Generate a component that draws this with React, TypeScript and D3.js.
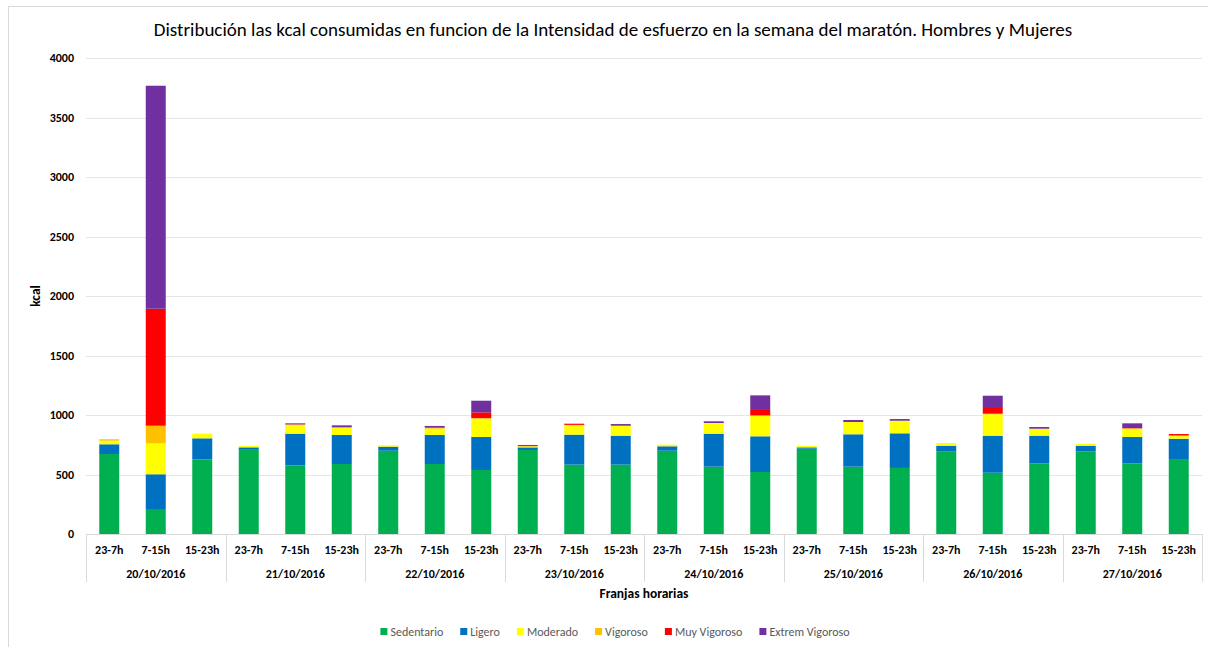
import React, { useEffect, useRef } from "react";
import * as d3 from "d3";

const dates = ["20/10/2016", "21/10/2016", "22/10/2016", "23/10/2016", "24/10/2016", "25/10/2016", "26/10/2016", "27/10/2016"];
const franjas = ["23-7h", "7-15h", "15-23h"];
const seriesNames = ["Sedentario", "Ligero", "Moderado", "Vigoroso", "Muy Vigoroso", "Extrem Vigoroso"];
const seriesColors = ["#00b050", "#0070c0", "#ffff00", "#ffc000", "#ff0000", "#7030a0"];

const sedentario = [672, 210, 627, 714, 577, 588, 700, 588, 538, 706, 583, 583, 700, 566, 521, 717, 566, 555, 692, 515, 594, 695, 594, 630];
const ligero = [82, 292, 177, 14, 266, 244, 34, 244, 277, 22, 252, 243, 37, 277, 300, 11, 272, 291, 50, 311, 232, 47, 221, 171];
const moderado = [30, 260, 39, 11, 76, 64, 11, 53, 154, 6, 78, 84, 14, 90, 171, 11, 103, 106, 23, 180, 59, 17, 70, 22];
const vigoroso = [12, 148, 0, 0, 0, 0, 0, 8, 5, 6, 4, 0, 0, 0, 5, 0, 0, 0, 0, 5, 0, 0, 3, 5];
const muyVigoroso = [0, 983, 0, 0, 3, 0, 0, 0, 48, 8, 10, 0, 0, 0, 53, 0, 0, 0, 0, 56, 0, 0, 11, 12];
const extremVigoroso = [0, 1874, 0, 0, 8, 17, 0, 15, 98, 0, 0, 14, 0, 14, 115, 0, 17, 14, 0, 95, 14, 0, 31, 0];

const yTicks = [0, 500, 1000, 1500, 2000, 2500, 3000, 3500, 4000];

const W = 1208;
const H = 647;
const FONT = "Carlito, Calibri, 'Open Sans', 'Noto Sans', sans-serif";

export default function App() {
  const ref = useRef<SVGSVGElement | null>(null);

  useEffect(() => {
    const svg = d3.select(ref.current);
    svg.selectAll("*").remove();

    const left = 86, right = 1202, top = 58, bottom = 534;
    const seriesArr = [sedentario, ligero, moderado, vigoroso, muyVigoroso, extremVigoroso];
    const cats = dates.flatMap((d) => franjas.map((f) => `${d}|${f}`));
    const rows = cats.map((c, i) => {
      const r: any = { cat: c };
      seriesNames.forEach((s, k) => (r[s] = seriesArr[k][i]));
      return r;
    });

    const x = d3.scaleBand().domain(cats).range([left, right]).paddingInner(0.57).paddingOuter(0.285);
    const xDate = d3.scaleBand().domain(dates).range([left, right]);
    const y = d3.scaleLinear().domain([0, 4000]).range([bottom, top]);

    // outer border
    svg.append("rect").attr("x", 8.5).attr("y", 6.5).attr("width", W + 10).attr("height", H + 10)
      .attr("fill", "#fff").attr("stroke", "#d9d9d9");

    // gridlines
    svg.append("g").selectAll("line").data(yTicks.slice(1)).join("line")
      .attr("x1", left).attr("x2", right)
      .attr("y1", (d) => Math.round(y(d)) + 0.5).attr("y2", (d) => Math.round(y(d)) + 0.5)
      .attr("stroke", "#e6e6e6").attr("stroke-width", 1.2);

    // y labels
    svg.append("g").selectAll("text").data(yTicks).join("text")
      .attr("x", 74).attr("y", (d) => y(d) + 4)
      .attr("text-anchor", "end").attr("font-family", FONT).attr("font-weight", "bold")
      .attr("font-size", 12).attr("fill", "#000").text((d) => String(d));

    svg.append("text").attr("transform", `translate(40,${(top + bottom) / 2}) rotate(-90)`)
      .attr("text-anchor", "middle").attr("font-family", FONT).attr("font-weight", "bold")
      .attr("font-size", 13.5).attr("fill", "#000").text("kcal");

    // bars
    const stack = d3.stack().keys(seriesNames)(rows as any);
    svg.append("g").selectAll("g").data(stack).join("g")
      .attr("fill", (_d, i) => seriesColors[i])
      .selectAll("rect").data((d) => d).join("rect")
      .attr("x", (d: any) => x(d.data.cat)!)
      .attr("width", x.bandwidth())
      .attr("y", (d) => y(d[1]))
      .attr("height", (d) => Math.max(0, y(d[0]) - y(d[1])));

    // category axis
    svg.append("line").attr("x1", left).attr("x2", right).attr("y1", bottom + 0.5).attr("y2", bottom + 0.5)
      .attr("stroke", "#d9d9d9");
    const seps = [...dates.map((d) => xDate(d)!), right];
    svg.append("g").selectAll("line").data(seps).join("line")
      .attr("x1", (d) => Math.round(d) + 0.5).attr("x2", (d) => Math.round(d) + 0.5)
      .attr("y1", bottom).attr("y2", 582).attr("stroke", "#d9d9d9");

    svg.append("g").selectAll("text").data(cats).join("text")
      .attr("x", (d) => x(d)! + x.bandwidth() / 2).attr("y", 554)
      .attr("text-anchor", "middle").attr("font-family", FONT).attr("font-weight", "bold")
      .attr("font-size", 12).attr("fill", "#000").text((d) => d.split("|")[1]);

    svg.append("g").selectAll("text").data(dates).join("text")
      .attr("x", (d) => xDate(d)! + xDate.bandwidth() / 2).attr("y", 578)
      .attr("text-anchor", "middle").attr("font-family", FONT).attr("font-weight", "bold")
      .attr("font-size", 12).attr("fill", "#000").text((d) => d);

    svg.append("text").attr("x", (left + right) / 2).attr("y", 598)
      .attr("text-anchor", "middle").attr("font-family", FONT).attr("font-weight", "bold")
      .attr("font-size", 13.5).attr("fill", "#000").text("Franjas horarias");

    // title
    svg.append("text").attr("x", 613).attr("y", 36)
      .attr("text-anchor", "middle").attr("font-family", FONT)
      .attr("font-size", 19).attr("fill", "#000")
      .text("Distribución las kcal consumidas en funcion de la Intensidad de esfuerzo en la semana del maratón. Hombres y Mujeres");

    // legend
    const lg = svg.append("g");
    let cx = 0;
    seriesNames.forEach((s, i) => {
      const item = lg.append("g").attr("transform", `translate(${cx},0)`);
      item.append("rect").attr("x", 0).attr("y", -8).attr("width", 7).attr("height", 7).attr("fill", seriesColors[i]);
      const t = item.append("text").attr("x", 10).attr("y", 0).attr("font-family", FONT)
        .attr("font-size", 12).attr("fill", "#595959").text(s);
      const w = (t.node() as SVGTextElement).getComputedTextLength();
      cx += 10 + w + 17;
    });
    const totalW = cx - 17;
    lg.attr("transform", `translate(${615 - totalW / 2},636)`);
  }, []);

  return <svg ref={ref} width={W} height={H} style={{ display: "block", position: "absolute", left: 0, top: 0 }} />;
}
